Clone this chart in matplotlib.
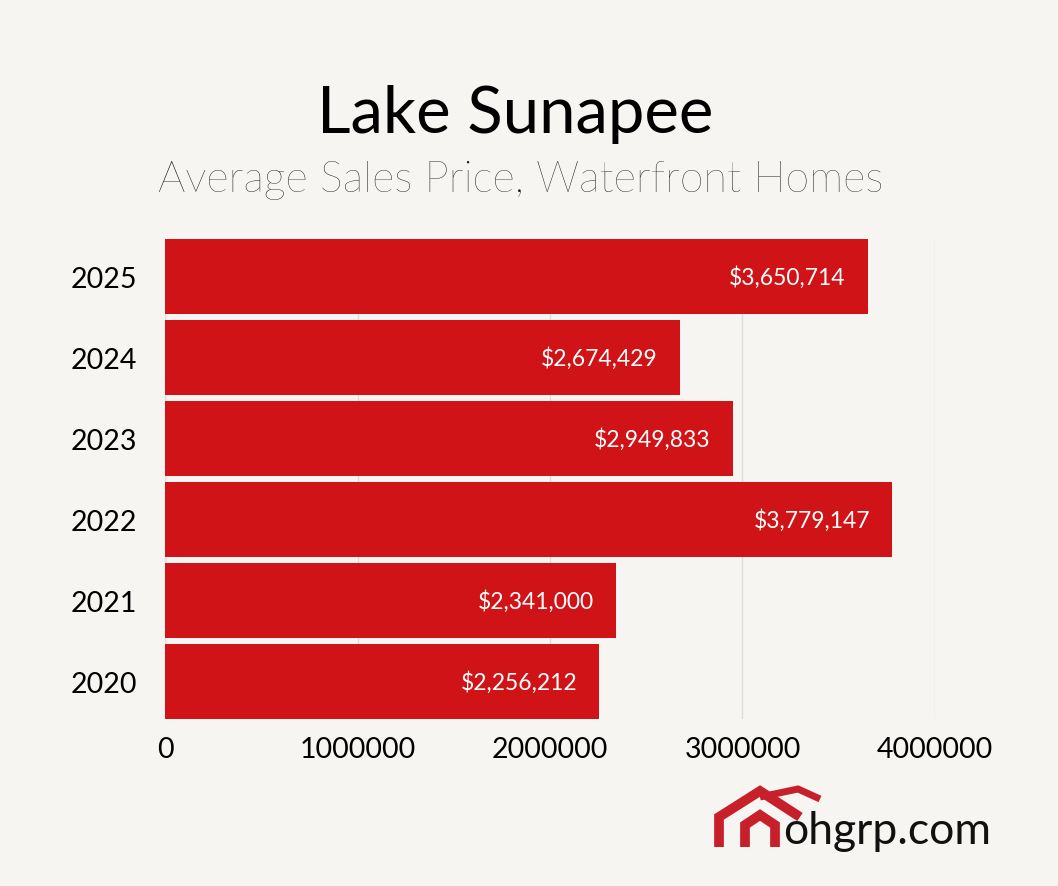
import matplotlib
matplotlib.use("Agg")
import matplotlib.pyplot as plt
from matplotlib.lines import Line2D

years = ["2020", "2021", "2022", "2023", "2024", "2025"]
prices = [2256212, 2341000, 3779147, 2949833, 2674429, 3650714]
labels = ["$2,256,212", "$2,341,000", "$3,779,147", "$2,949,833", "$2,674,429", "$3,650,714"]
xticks = [0, 1000000, 2000000, 3000000, 4000000]

fig = plt.figure(figsize=(10.58, 8.87), dpi=100)
fig.patch.set_facecolor("#f6f5f2")
ax = fig.add_axes([165/1058, 1-720/887, 770/1058, 480/887])
ax.set_facecolor("none")
ax.barh(range(6), prices, height=0.92, color="#d01316", zorder=2)
for i, (p, l) in enumerate(zip(prices, labels)):
    ax.text(p - 115000, i, l, ha="right", va="center", color="white", fontsize=16.5, family="Lato", zorder=3)
ax.set_xlim(0, 4000000)
ax.set_ylim(-0.46, 5.46)
ax.set_yticks(range(6))
ax.set_yticklabels(years, fontsize=20.5, family="Lato")
ax.set_xticks(xticks)
ax.set_xticklabels([str(x) for x in xticks], fontsize=20.5, family="Lato")
ax.tick_params(length=0, pad=12)
ax.tick_params(axis="y", pad=20)
for s in ax.spines.values():
    s.set_visible(False)
ax.xaxis.grid(True, color="#dcdcdc", lw=1, zorder=0)
ax.set_axisbelow(True)

fig.text(0.487, 1-115/887, "Lake Sunapee", ha="center", va="center", fontsize=47, family="Lato", color="#000000")
fig.text(0.492, 1-181/887, "Average Sales Price, Waterfront Homes", ha="center", va="center", fontsize=31, family="Lato", weight="light", color="#111111")

# logo
red = "#c8202a"
def L(xs, ys, lw=7):
    fig.add_artist(Line2D([x/1058 for x in xs], [1-y/887 for y in ys], color=red, lw=lw, solid_capstyle="butt", solid_joinstyle="miter"))
L([719, 719, 760, 800], [848, 818, 792, 818])
L([745, 745, 760, 775, 775], [848, 826, 816, 826, 848])
L([760, 798, 820], [798, 790, 800], lw=5)
fig.text(783/1058, 1-832/887, "ohgrp.com", ha="left", va="center", fontsize=32, family="Lato", color="#111111")

fig.savefig("out.png", dpi=100, facecolor=fig.get_facecolor())
